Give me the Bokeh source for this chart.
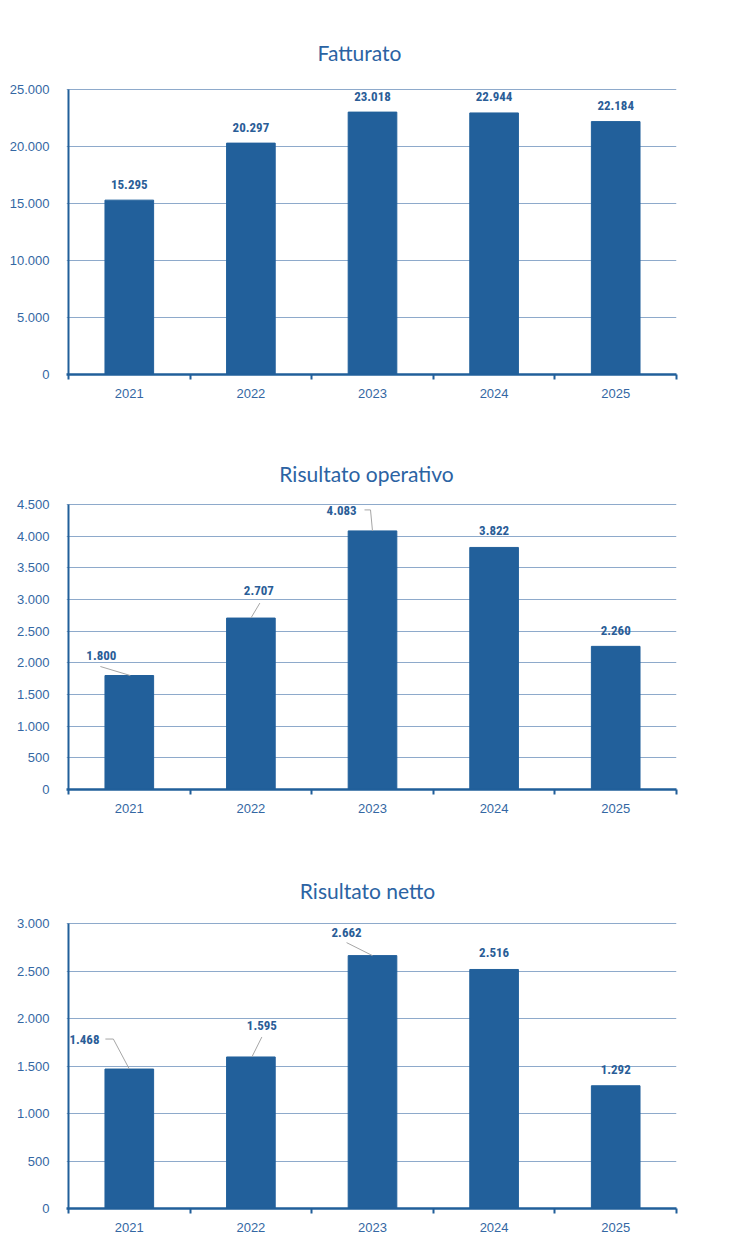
from bokeh.core.properties import value
from bokeh.embed import file_html
from bokeh.layouts import column
from bokeh.models import FixedTicker, Grid, LinearAxis, Range1d
from bokeh.plotting import figure
from bokeh.resources import INLINE

# data
years = ["2021", "2022", "2023", "2024", "2025"]

fatturato = [15295, 20297, 23018, 22944, 22184]
operativo = [1800, 2707, 4083, 3822, 2260]
netto = [1468, 1595, 2662, 2516, 1292]

fat_ticks = [0, 5000, 10000, 15000, 20000, 25000]
fat_tick_labels = ["0", "5.000", "10.000", "15.000", "20.000", "25.000"]
op_ticks = [0, 500, 1000, 1500, 2000, 2500, 3000, 3500, 4000, 4500]
op_tick_labels = ["0", "500", "1.000", "1.500", "2.000", "2.500", "3.000", "3.500", "4.000", "4.500"]
net_ticks = [0, 500, 1000, 1500, 2000, 2500, 3000]
net_tick_labels = ["0", "500", "1.000", "1.500", "2.000", "2.500", "3.000"]

# colours / fonts
bar_color = "#22609b"
axis_color = "#215f9a"
grid_color = "#8eaacb"
tick_color = "#3467a3"
label_color = "#2a5d97"
title_color = "#2b63a3"
leader_color = "#a6a6a6"
label_font = "'Liberation Sans Narrow', 'Roboto Condensed', 'DejaVu Sans Condensed', sans-serif"

FIG_W = 720
FRAME_W = 610
FRAME_H = 285
PAD_L = 2          # px kept left of the y axis line
HEAD = 56          # px of frame kept above the top gridline for the title

# label placement (pixel offsets from the top centre of each bar) and leader lines
fat_offsets = [(0, -16)] * 5
fat_leaders = [None] * 5
op_offsets = [(-28, -20), (8, -28), (-31, -20), (0, -17), (0, -16)]
op_leaders = [[(-29, -9), (1, 0)], [(9, -15), (0, 0)], [(-8, -21), (-2, -21), (0, 0)], None, None]
net_offsets = [(-45, -30), (11, -31), (-26, -23), (0, -17), (0, -16)]
net_leaders = [[(-24, -30), (-16, -30), (0, 0)], [(11, -20), (1, 0)], [(-26, -13), (0, 0)], None, None]


def fmt(v):
    return f"{v:,}".replace(",", ".")


def make_chart(title, vals, ticks, tick_labels, offsets, leaders,
               height, top, left, title_pos):
    ymax = ticks[-1]
    ux = 5 / FRAME_W          # data units per pixel
    uy = ymax / FRAME_H
    p = figure(width=FIG_W, height=height, output_backend="svg", toolbar_location=None,
               x_range=Range1d(-PAD_L * ux, 5), y_range=Range1d(0, ymax + HEAD * uy),
               min_border_left=left - PAD_L, min_border_right=FIG_W - left - FRAME_W,
               min_border_top=top - HEAD, min_border_bottom=height - top - FRAME_H,
               x_axis_type=None, y_axis_type=None)
    p.outline_line_color = None
    p.background_fill_color = "white"
    p.border_fill_color = "white"

    # y axis (line drawn separately so it stops at the top tick)
    yaxis = LinearAxis(ticker=FixedTicker(ticks=ticks))
    yaxis.major_label_overrides = dict(zip(ticks, tick_labels))
    yaxis.axis_line_color = None
    yaxis.major_tick_line_color = None
    yaxis.minor_tick_line_color = None
    yaxis.major_label_text_font = "Liberation Sans"
    yaxis.major_label_text_font_size = "13px"
    yaxis.major_label_text_color = tick_color
    yaxis.major_label_standoff = 11
    p.add_layout(yaxis, "left")

    # x axis: labels at the centres, ticks between categories
    centers = [i + 0.5 for i in range(len(years))]
    xaxis = LinearAxis(ticker=FixedTicker(ticks=centers, minor_ticks=list(range(len(years) + 1))))
    xaxis.major_label_overrides = dict(zip(centers, years))
    xaxis.axis_line_color = axis_color
    xaxis.axis_line_width = 2.5
    xaxis.major_tick_line_color = None
    xaxis.major_tick_out = 0
    xaxis.major_tick_in = 0
    xaxis.minor_tick_line_color = axis_color
    xaxis.minor_tick_line_width = 2
    xaxis.minor_tick_out = 5
    xaxis.minor_tick_in = 0
    xaxis.major_label_text_font = "Liberation Sans"
    xaxis.major_label_text_font_size = "13px"
    xaxis.major_label_text_color = tick_color
    xaxis.major_label_standoff = 9
    p.add_layout(xaxis, "below")

    p.add_layout(Grid(dimension=1, ticker=FixedTicker(ticks=ticks),
                      grid_line_color=grid_color, grid_line_width=1))

    p.segment(x0=[0], y0=[0], x1=[0], y1=[ymax], line_color=axis_color, line_width=2)
    p.vbar(x=centers, top=vals, width=0.4, color=bar_color)

    # title
    tdx, tdy = title_pos
    p.text(x=[2.5 + tdx * ux], y=[ymax + tdy * uy], text=[title],
           text_align="center", text_baseline="middle",
           text_font=value("Lato"), text_font_size="21px", text_color=title_color)

    lx, ly, texts = [], [], []
    xs, ys = [], []
    for c, v, (dx, dy), lead in zip(centers, vals, offsets, leaders):
        lx.append(c + dx * ux)
        ly.append(v - dy * uy)
        texts.append(fmt(v))
        if lead:
            xs.append([c + px * ux for px, py in lead])
            ys.append([v - py * uy for px, py in lead])
    if xs:
        p.multi_line(xs=xs, ys=ys, line_color=leader_color, line_width=1)
    p.text(x=lx, y=ly, text=texts, text_align="center", text_baseline="middle",
           text_font=value(label_font), text_font_style="bold",
           text_font_size="13px", text_color=label_color)
    return p


p1 = make_chart("Fatturato", fatturato, fat_ticks, fat_tick_labels, fat_offsets, fat_leaders,
                420, 89, 66, (-13, 37))
p2 = make_chart("Risultato operativo", operativo, op_ticks, op_tick_labels, op_offsets, op_leaders,
                415, 84, 66, (-6, 31))
p3 = make_chart("Risultato netto", netto, net_ticks, net_tick_labels, net_offsets, net_leaders,
                403, 88, 68, (-5, 33))

p = column(p1, p2, p3)

open("out.html", "w").write(file_html(p, INLINE))
